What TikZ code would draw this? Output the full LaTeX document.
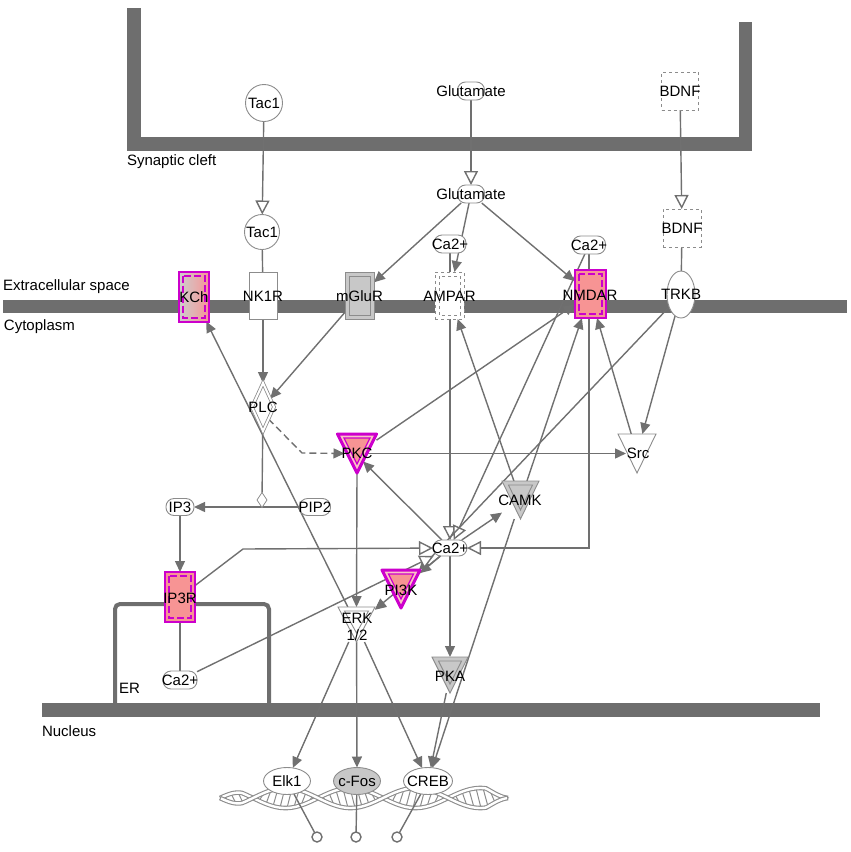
\documentclass[tikz,border=0pt]{standalone}
\usepackage{fontspec}
\setmainfont{Liberation Sans}
\usetikzlibrary{arrows.meta,shapes.geometric,calc}
\pgfdeclarelayer{bg}\pgfdeclarelayer{edges}
\pgfsetlayers{bg,edges,main}
\definecolor{mem}{HTML}{6E6E6E}
\definecolor{lg}{HTML}{707070}
\definecolor{bd}{HTML}{8C8C8C}
\definecolor{mag}{HTML}{CC00CC}
\definecolor{sal}{HTML}{F79494}
\definecolor{gfill}{HTML}{C8C8C8}
\newcommand\zb[1]{\makebox[0pt]{#1}}
\newcommand\tridraw[2]{\draw[#2] (#1.north west) -- (#1.north east) -- (#1.south) -- cycle;}
\newcommand\triinner[2]{\draw[#2] ($(#1.north west)+(6.5,4)$) -- ($(#1.north east)+(-6.5,4)$) -- ($(#1.south)+(0,-9)$) -- cycle;}
\newcommand\boxinner[2]{\draw[#2] ($(#1.north west)+(4,4)$) rectangle ($(#1.south east)+(-4,-4)$);}
\begin{document}
\begin{tikzpicture}[x=1pt,y=-1pt,
 every node/.style={font=\fontsize{15}{17}\selectfont, inner sep=0pt, outer sep=0pt},
 ln/.style={draw=lg, line width=1.4pt},
 arr/.style={ln, -{Triangle[length=11pt,width=10pt]}},
 oarr/.style={ln, -{Triangle[open,length=14pt,width=14pt,fill=white]}},
 cap/.style={draw=bd, fill=white, rounded corners=8pt, minimum width=#1, minimum height=18pt, line width=0.9pt},
 circ/.style={circle, draw=bd, fill=white, line width=0.9pt, minimum size=37pt},
 dbox/.style={rectangle, draw=bd, dashed, fill=white, line width=0.9pt, minimum width=37pt, minimum height=38pt},
 rbox/.style={rectangle, draw=bd, fill=white, line width=0.9pt, minimum width=29pt, minimum height=47pt},
 hibox/.style={rectangle, draw=mag, line width=2pt, minimum width=30pt, minimum height=50pt},
 ell/.style={ellipse, draw=bd, fill=white, line width=0.9pt, minimum width=47pt, minimum height=27pt},
 trinode/.style={rectangle, minimum width=#1, minimum height=38pt},
 himag/.style={draw=mag, line width=2pt, dash pattern=on 7pt off 3pt},
 rung/.style={draw=bd, line width=1pt},
 strand/.style={draw=bd, line width=4.6pt},
 strandin/.style={draw=white, line width=2.4pt}
]
\useasboundingbox (0,0) rectangle (851,852);
% ---------- membranes ----------
\begin{pgfonlayer}{bg}
\fill[mem] (127,8) rectangle (141,151);
\fill[mem] (127,137) rectangle (752,151);
\fill[mem] (739,22) rectangle (752,151);
\fill[mem] (3,300) rectangle (847,313);
\fill[mem] (42,703) rectangle (820,717);
\draw[mem, line width=4pt, rounded corners=5pt] (115,706) -- (115,604) -- (269,604) -- (269,706);
% DNA helix
\foreach \x in {224,231,...,504}{
  \draw[rung] (\x,{798+10*min(1,(\x-220)/22,(508-\x)/22)*sin((\x-253)/65*180)}) -- ({\x+5},{798-10*min(1,(\x-215)/22,(503-\x)/22)*sin((\x-248)/65*180)});
}
\draw[strand] plot[domain=220:508, samples=120, smooth] (\x,{798+10*min(1,(\x-220)/22,(508-\x)/22)*sin((\x-253)/65*180)});
\draw[strandin] plot[domain=221:507, samples=120, smooth] (\x,{798+10*min(1,(\x-220)/22,(508-\x)/22)*sin((\x-253)/65*180)});
\draw[strand] plot[domain=220:508, samples=120, smooth] (\x,{798-10*min(1,(\x-220)/22,(508-\x)/22)*sin((\x-253)/65*180)});
\draw[strandin] plot[domain=221:507, samples=120, smooth] (\x,{798-10*min(1,(\x-220)/22,(508-\x)/22)*sin((\x-253)/65*180)});
\end{pgfonlayer}
% ---------- labels ----------
\node[anchor=west] (lsyn) at (127,162) {Synaptic cleft};
\node[anchor=west] (lext) at (3,287) {Extracellular space};
\node[anchor=west] (lcyt) at (4,327) {Cytoplasm};
\node[anchor=west] (lnuc) at (42,731) {Nucleus};
\node[anchor=west] (ler) at (119,688) {ER};
% ---------- nodes ----------
\node[circ] (tac1a) at (264,103) {\zb{Tac1}};
\node[cap=27pt] (glu1) at (471,91) {\zb{Glutamate}};
\node[dbox] (bdnf1) at (680,91) {\zb{BDNF}};
\node[circ, minimum size=35pt] (tac1b) at (262,232) {\zb{Tac1}};
\node[cap=27pt] (glu2) at (471,194) {\zb{Glutamate}};
\node[dbox, minimum width=38pt] (bdnf2) at (682,228) {\zb{BDNF}};
\node[cap=32pt] (caa) at (450,244) {\zb{Ca2+}};
\node[cap=33pt] (can) at (589,245) {\zb{Ca2+}};
% membrane proteins
\node[hibox, left color=gfill!90!white, right color=sal] (kch) at (194,296.5) {};
\boxinner{kch}{himag}
\node (kcht) at (194,297) {\zb{KCh}};
\node[rbox, minimum width=28pt] (nk1r) at (263,296) {\zb{NK1R}};
\node[rbox, fill=gfill] (mglur) at (359.5,295.5) {};
\boxinner{mglur}{draw=bd, line width=0.9pt}
\node (mglurt) at (359.5,296) {\zb{mGluR}};
\node[rbox, dashed] (ampar) at (449.5,295.5) {};
\boxinner{ampar}{draw=bd, dashed, line width=0.9pt}
\node (ampart) at (449.5,296) {\zb{AMPAR}};
\node[hibox, fill=sal, minimum width=31pt, minimum height=48pt] (nmdar) at (590,294) {};
\boxinner{nmdar}{himag}
\node (nmdart) at (590,295) {\zb{NMDAR}};
\node[ellipse, draw=bd, fill=white, line width=0.9pt, minimum width=28pt, minimum height=47pt] (trkb) at (681,294.5) {\zb{TRKB}};
% cytoplasm
\node[diamond, draw=bd, double=white, double distance=2pt, line width=0.8pt, minimum width=22pt, minimum height=48pt] (plc) at (263,407) {\zb{PLC}};
\node[diamond, draw=bd, fill=white, line width=0.8pt, minimum width=10pt, minimum height=15pt] (sdia) at (262,500) {};
\node[cap=28pt, minimum height=17pt] (ip3) at (180,507) {\zb{IP3}};
\node[cap=31pt, minimum height=17pt] (pip2) at (315,507) {\zb{PIP2}};
\node[cap=34pt, minimum height=16pt] (cac) at (450,548) {\zb{Ca2+}};
\node[cap=34pt] (caer) at (180,680) {\zb{Ca2+}};
\node[hibox, fill=sal] (ip3r) at (180,597) {};
\boxinner{ip3r}{himag}
\node (ip3rt) at (180,598) {\zb{IP3R}};
% triangles
\node[trinode=39pt, minimum height=39pt] (pkc) at (357,453.5) {};
\tridraw{pkc}{draw=mag, line width=3pt, fill=sal!55!white, line join=round}
\triinner{pkc}{draw=mag, line width=1.2pt, fill=sal}
\node (pkct) at (357,453) {\zb{PKC}};
\node[trinode=38pt, minimum height=39pt] (src) at (637,453.5) {};
\tridraw{src}{draw=bd, line width=0.9pt, fill=white}
\node (srct) at (638,453) {\zb{Src}};
\node[trinode=37pt] (camk) at (520.5,500) {};
\tridraw{camk}{draw=bd, line width=0.9pt, fill=gfill}
\triinner{camk}{draw=bd, line width=0.9pt}
\node (camkt) at (520,500) {\zb{CAMK}};
\node[trinode=38pt] (pi3k) at (401,589) {};
\tridraw{pi3k}{draw=mag, line width=3pt, fill=sal!55!white, line join=round}
\triinner{pi3k}{draw=mag, line width=1.2pt, fill=sal}
\node (pi3kt) at (401,590) {\zb{PI3K}};
\node[trinode=37pt, minimum height=35pt] (erk) at (356.5,624.5) {};
\tridraw{erk}{draw=bd, line width=0.9pt, fill=white}
\triinner{erk}{draw=bd, line width=0.9pt}
\node[align=center] (erkt) at (357,627) {ERK\\1/2};
\node[trinode=36pt, minimum height=36pt] (pka) at (450,675) {};
\tridraw{pka}{draw=bd, line width=0.9pt, fill=gfill}
\triinner{pka}{draw=bd, line width=0.9pt}
\node (pkat) at (450,676) {\zb{PKA}};
% nucleus
\node[ell] (elk1) at (287,781) {\zb{Elk1}};
\node[ell, fill=gfill] (cfos) at (357,781) {\zb{c-Fos}};
\node[ell, minimum width=49pt] (creb) at (428,781) {\zb{CREB}};
\node[circle, draw=lg, line width=1.4pt, fill=white, minimum size=10pt] (lp1) at (317,837) {};
\node[circle, draw=lg, line width=1.4pt, fill=white, minimum size=10pt] (lp2) at (356,837) {};
\node[circle, draw=lg, line width=1.4pt, fill=white, minimum size=10pt] (lp3) at (397,837) {};
\coordinate (b1) at (243,549);
\coordinate (dk) at (302,453);
% ---------- edges ----------
\begin{pgfonlayer}{edges}
\draw[oarr] (tac1a) -- (tac1b);
\draw[oarr] (glu1) -- (glu2);
\draw[oarr] (bdnf1) -- (bdnf2);
\draw[ln] (tac1b) -- (nk1r);
\draw[ln] (bdnf2) -- (trkb);
\draw[arr] (glu2) -- (mglur);
\draw[arr] (glu2) -- (ampar);
\draw[arr] (glu2) -- (nmdar);
\draw[oarr] (caa) -- (cac);
\draw[oarr] (can) -- (cac);
\draw[oarr] (can) |- (cac);
\draw[arr] (nk1r) -- (plc);
\draw[arr] (mglur) -- (plc);
\draw[ln, dash pattern=on 7pt off 4pt, -{Triangle[length=11pt,width=10pt]}] (plc.south east) -- (dk) -- ($(pkc.west)+(7,0)$);
\draw[arr] ($(pkc.east)+(-9,0)$) -- ($(src.west)+(8,0)$);
\draw[arr] (pkc.south) -- (erk.north);
\draw[arr] (cac) -- ($(pkc.center)+(6,8)$);
\draw[arr] (pkc) -- (nmdar);
\draw[arr] (camk) -- (ampar);
\draw[arr] (camk) -- (nmdar);
\draw[arr] (src) -- (nmdar);
\draw[arr] (trkb) -- (src);
\draw[arr] (trkb) -- (pi3k);
\draw[arr] (cac) -- (pi3k);
\draw[arr] (cac) -- (erk);
\draw[arr] (cac) -- (camk);
\draw[arr] (cac) -- (pka);
\draw[arr] (pi3k) -- (erk);
\draw[arr] (erk) -- (kch);
\draw[arr] (pip2) -- (ip3);
\draw[ln] (plc) -- (sdia);
\draw[arr] (ip3) -- (ip3r);
\draw[ln] (ip3r) -- (caer);
\draw[oarr] (ip3r) -- (b1) -- (cac);
\draw[oarr] (caer) -- (cac);
\draw[arr] (erk) -- (elk1);
\draw[arr] (erk) -- (cfos);
\draw[arr] (erk) -- (creb);
\draw[arr] (camk) -- (creb);
\draw[arr] (pka) -- (creb);
\draw[ln] (elk1) -- (lp1);
\draw[ln] (cfos) -- (lp2);
\draw[ln] (creb) -- (lp3);
\end{pgfonlayer}
\end{tikzpicture}
\end{document}
